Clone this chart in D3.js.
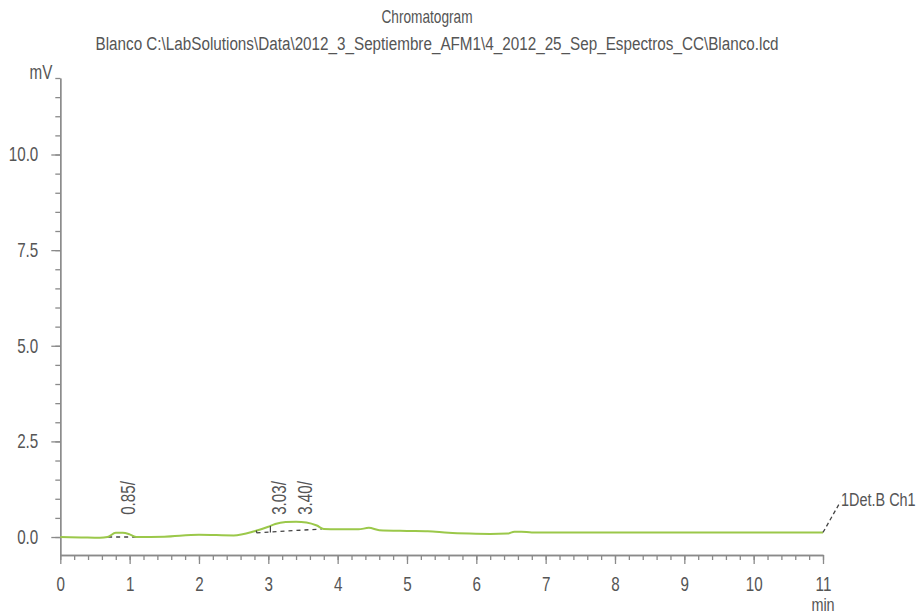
<!DOCTYPE html>
<html>
<head>
<meta charset="utf-8">
<script src="https://cdn.jsdelivr.net/npm/d3@7"></script>
<style>
  body { margin: 0; background: #fff; }
  text { font-family: "Liberation Sans", Arial, sans-serif; fill: #555; }
</style>
</head>
<body>
<div id="my_dataviz"></div>
<script>
// retention time (min) and detector signal (mV)
var times = [0, 0.3, 0.57, 0.68, 0.8, 0.9, 1.0, 1.1, 1.5, 2.0, 2.5, 2.8, 3.0, 3.1, 3.25, 3.4, 3.55, 3.7, 3.8, 4.0, 4.3, 4.45, 4.6, 5.0, 5.3, 5.6, 5.9, 6.2, 6.45, 6.55, 6.65, 6.8, 8, 9.5, 11];
var signal = [0, -0.01, -0.02, 0.0, 0.11, 0.11, 0.07, 0.0, 0.01, 0.06, 0.04, 0.15, 0.27, 0.34, 0.39, 0.40, 0.38, 0.30, 0.21, 0.20, 0.20, 0.24, 0.18, 0.16, 0.15, 0.11, 0.09, 0.08, 0.09, 0.14, 0.14, 0.12, 0.12, 0.12, 0.12];

// integrated peaks
var peakTimes = [0.85, 3.03, 3.40];
var peakLabels = ["0.85/", "3.03/", "3.40/"];

// dashed baselines under peaks: [t0, v0, t1, v1]
var baselines = [[0.69, 0.0, 1.1, 0.0], [2.83, 0.11, 3.77, 0.21]];

var xTicks = [0, 1, 2, 3, 4, 5, 6, 7, 8, 9, 10, 11];
var yTicks = [0, 2.5, 5, 7.5, 10];

var W = 917, H = 616;
var K = 0.76; // horizontal squeeze to mimic a condensed face
var x = d3.scaleLinear().domain([0, 11]).range([60.3, 823]);
var y = d3.scaleLinear().domain([-0.47, 12]).range([555, 78]);

var svg = d3.select("#my_dataviz").append("svg")
  .attr("width", W).attr("height", H);

// squeeze a text: move its x/y into a transform and scale horizontally
function condense(sel) {
  sel.each(function() {
    var t = d3.select(this);
    var tx = +t.attr("x") || 0, ty = +t.attr("y") || 0;
    var pre = t.attr("transform") || "";
    t.attr("x", 0).attr("y", 0)
     .attr("transform", pre + " translate(" + tx + "," + ty + ") scale(" + K + ",1)");
  });
}

function label(px, py, txt, size, anchor) {
  return svg.append("text").attr("x", px).attr("y", py)
    .attr("text-anchor", anchor || "start")
    .style("font-size", size + "px").text(txt).call(condense);
}

// titles
label(427, 23, "Chromatogram", 18, "middle");
svg.append("text").attr("x", 437).attr("y", 50).attr("text-anchor", "middle")
  .attr("textLength", 683).attr("lengthAdjust", "spacingAndGlyphs")
  .style("font-size", "18px")
  .text("Blanco C:\\LabSolutions\\Data\\2012_3_Septiembre_AFM1\\4_2012_25_Sep_Espectros_CC\\Blanco.lcd");

label(41, 79, "mV", 20, "middle");
label(823, 611, "min", 19, "middle");

// x axis
var xMinor = d3.range(0, 11.001, 0.2);
svg.append("g").attr("class", "axis")
  .attr("transform", "translate(0," + y(-0.47) + ")")
  .call(d3.axisBottom(x).tickValues(xMinor).tickSize(5).tickSizeOuter(0).tickFormat(""));
svg.append("g").attr("class", "axis")
  .attr("transform", "translate(0," + y(-0.47) + ")")
  .call(d3.axisBottom(x).tickValues(xTicks).tickSize(9).tickSizeOuter(0).tickPadding(13).tickFormat(d3.format("d")));

// y axis
var yMinor = d3.range(0, 12.001, 0.5);
svg.append("g").attr("class", "axis")
  .attr("transform", "translate(" + x(0) + ",0)")
  .call(d3.axisLeft(y).tickValues(yMinor).tickSize(5).tickSizeOuter(0).tickFormat(""));
svg.append("g").attr("class", "axis")
  .attr("transform", "translate(" + x(0) + ",0)")
  .call(d3.axisLeft(y).tickValues(yTicks).tickSize(9).tickSizeOuter(0).tickPadding(13).tickFormat(d3.format(".1f")));

svg.selectAll(".axis path, .axis line").attr("stroke", "#8a8a8a").attr("stroke-width", 1.3);
svg.selectAll(".axis text").style("font-size", "20px").attr("fill", "#555")
  .style("font-family", "'Liberation Sans',Arial,sans-serif").call(condense);

// baselines
svg.selectAll(".base").data(baselines).enter().append("line")
  .attr("x1", d => x(d[0])).attr("y1", d => y(d[1]))
  .attr("x2", d => x(d[2])).attr("y2", d => y(d[3]))
  .attr("stroke", "#444").attr("stroke-width", 1.3).attr("stroke-dasharray", "4,4");

// trace
var pts = times.map((t, i) => [t, signal[i]]);
var line = d3.line().x(d => x(d[0])).y(d => y(d[1])).curve(d3.curveMonotoneX);
svg.append("path").datum(pts).attr("d", line)
  .attr("fill", "none").attr("stroke", "#9bc84a").attr("stroke-width", 2);

// drop lines at peak start and split
svg.append("line").attr("x1", x(3.03)).attr("x2", x(3.03))
  .attr("y1", y(0.12)).attr("y2", y(0.29)).attr("stroke", "#444").attr("stroke-width", 1.2);
svg.append("line").attr("x1", x(2.83)).attr("x2", x(2.83))
  .attr("y1", y(0.11)).attr("y2", y(0.17)).attr("stroke", "#444").attr("stroke-width", 1.2);

// peak labels (rotated)
svg.selectAll(".plab").data(peakTimes).enter().append("text")
  .attr("transform", d => "translate(" + (x(d) + 16) + "," + y(0.58) + ") rotate(-90) scale(" + K + ",1)")
  .style("font-size", "20px").text((d, i) => peakLabels[i]);

// channel label
svg.append("line").attr("x1", x(11)).attr("y1", y(0.12))
  .attr("x2", x(11.25)).attr("y2", y(0.92))
  .attr("stroke", "#444").attr("stroke-width", 1.3).attr("stroke-dasharray", "4,3");
label(x(11.26), y(0.8), "1Det.B Ch1", 19);
</script>
</body>
</html>
